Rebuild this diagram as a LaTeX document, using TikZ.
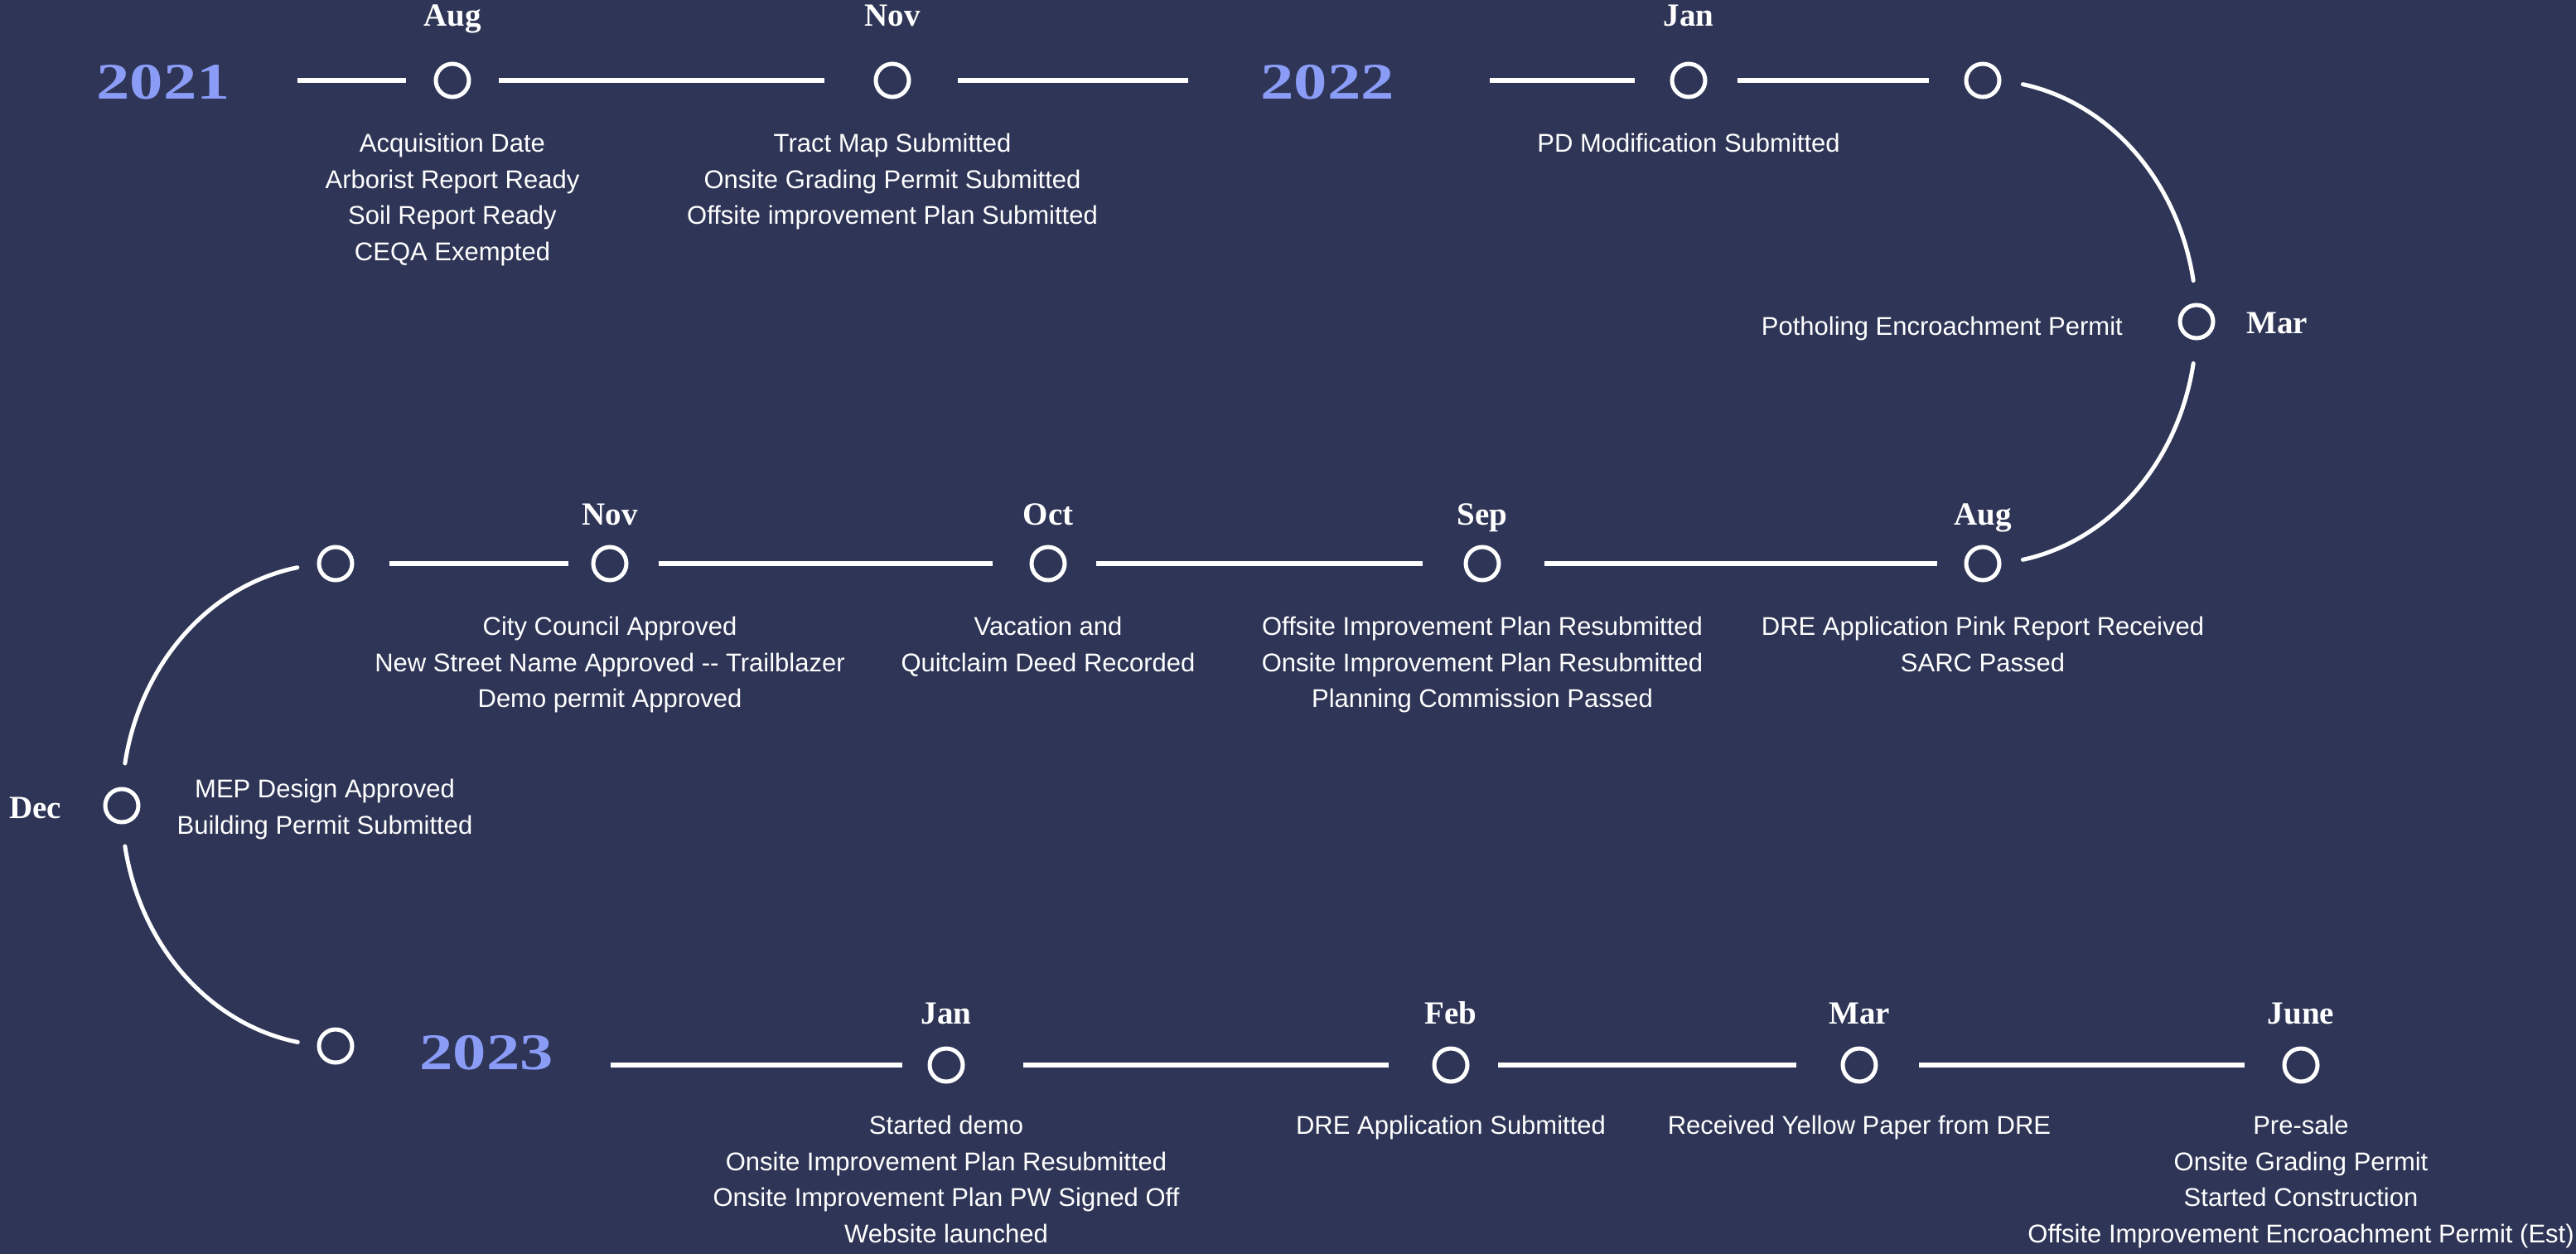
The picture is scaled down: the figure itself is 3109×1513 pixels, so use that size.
\documentclass[tikz,border=0pt]{standalone}
\usepackage{fontspec}
\setmainfont{Liberation Sans}
\newfontfamily\monthfont{Liberation Serif}
\newfontfamily\yearfont{Liberation Serif}[FakeStretch=1.3]
\usetikzlibrary{calc}
\definecolor{bg}{HTML}{2E3556}
\definecolor{yr}{HTML}{8B9CF7}
\begin{document}
\begin{tikzpicture}[x=1bp,y=1bp,
  dot/.style={circle,draw=white,line width=5bp,minimum size=40bp,inner sep=0pt},
  seg/.style={white,line width=5.5bp},
  curve/.style={white,line width=5bp,line cap=round},
  month/.style={text=white,font=\monthfont\bfseries\fontsize{39bp}{44bp}\selectfont,inner sep=0pt,anchor=base},
  yearlbl/.style={text=yr,font=\yearfont\bfseries\fontsize{62bp}{70bp}\selectfont,inner sep=0pt,anchor=base},
  desc/.style={text=white,font=\fontsize{31bp}{43.6bp}\selectfont,align=center,inner sep=0pt,anchor=north}]
\useasboundingbox (0,0) rectangle (3109,-1513);
\fill[bg] (0,0) rectangle (3109,-1513);

% ---------- nodes ----------
% row 1
\node[yearlbl] (y21) at (197,-120) {2021};
\node[dot] (a1) at (546,-97) {};
\node[dot] (n1) at (1077,-97) {};
\node[yearlbl] (y22) at (1602,-120) {2022};
\node[dot] (j1) at (2038,-97) {};
\node[dot] (e1) at (2393,-97) {};
\node[dot] (m1) at (2651,-388) {};
% row 2
\node[dot] (a2) at (2393,-680) {};
\node[dot] (s2) at (1789,-680) {};
\node[dot] (o2) at (1265,-680) {};
\node[dot] (n2) at (736,-680) {};
\node[dot] (w2) at (405,-680) {};
\node[dot] (d2) at (147,-972) {};
% row 3
\node[dot] (w3) at (405,-1262) {};
\node[yearlbl] (y23) at (587,-1290) {2023};
\node[dot] (j3) at (1142,-1285) {};
\node[dot] (f3) at (1751,-1285) {};
\node[dot] (m3) at (2244,-1285) {};
\node[dot] (u3) at (2777,-1285) {};

% ---------- month labels ----------
\node[month] (la1) at ([yshift=65bp]a1.center) {Aug};
\node[month] (ln1) at ([yshift=65bp]n1.center) {Nov};
\node[month] (lj1) at ([yshift=65bp]j1.center) {Jan};
\node[month,anchor=base west] (lm1) at ([shift={(60bp,-14bp)}]m1.center) {Mar};
\node[month] (la2) at ([yshift=47bp]a2.center) {Aug};
\node[month] (ls2) at ([yshift=47bp]s2.center) {Sep};
\node[month] (lo2) at ([yshift=47bp]o2.center) {Oct};
\node[month] (ln2) at ([yshift=47bp]n2.center) {Nov};
\node[month,anchor=base east] (ld2) at ([shift={(-73bp,-15bp)}]d2.center) {Dec};
\node[month] (lj3) at ([yshift=50bp]j3.center) {Jan};
\node[month] (lf3) at ([yshift=50bp]f3.center) {Feb};
\node[month] (lm3) at ([yshift=50bp]m3.center) {Mar};
\node[month] (lu3) at ([yshift=50bp]u3.center) {June};

% ---------- descriptions ----------
\node[desc] (ta1) at ([yshift=-64bp]a1.center) {Acquisition Date\\Arborist Report Ready\\Soil Report Ready\\CEQA Exempted};
\node[desc] (tn1) at ([yshift=-64bp]n1.center) {Tract Map Submitted\\Onsite Grading Permit Submitted\\Offsite improvement Plan Submitted};
\node[desc] (tj1) at ([yshift=-64bp]j1.center) {PD Modification Submitted};
\node[desc,anchor=base east] (tm1) at ([shift={(-89bp,-16bp)}]m1.center) {Potholing Encroachment Permit};
\node[desc] (ta2) at ([yshift=-64bp]a2.center) {DRE Application Pink Report Received\\SARC Passed};
\node[desc] (ts2) at ([yshift=-64bp]s2.center) {Offsite Improvement Plan Resubmitted\\Onsite Improvement Plan Resubmitted\\Planning Commission Passed};
\node[desc] (to2) at ([yshift=-64bp]o2.center) {Vacation and\\Quitclaim Deed Recorded};
\node[desc] (tn2) at ([yshift=-64bp]n2.center) {City Council Approved\\New Street Name Approved {-}{-} Trailblazer\\Demo permit Approved};
\node[desc] (td2) at ([shift={(245bp,32bp)}]d2.center) {MEP Design Approved\\Building Permit Submitted};
\node[desc] (tj3) at ([yshift=-61bp]j3.center) {Started demo\\Onsite Improvement Plan Resubmitted\\Onsite Improvement Plan PW Signed Off\\Website launched};
\node[desc] (tf3) at ([yshift=-61bp]f3.center) {DRE Application Submitted};
\node[desc] (tm3) at ([yshift=-61bp]m3.center) {Received Yellow Paper from DRE};
\node[desc] (tu3) at ([yshift=-61bp]u3.center) {Pre-sale\\Onsite Grading Permit\\Started Construction\\Offsite Improvement Encroachment Permit (Est)};

% ---------- straight connectors ----------
\draw[seg] ($(y21.center |- a1.center)+(162,0)$) -- ($(a1.center)+(-56,0)$);
\draw[seg] ($(a1.center)+(56,0)$) -- ($(n1.center)+(-82,0)$);
\draw[seg] ($(n1.center)+(79,0)$) -- ($(y22.center |- n1.center)+(-168,0)$);
\draw[seg] ($(y22.center |- j1.center)+(196,0)$) -- ($(j1.center)+(-65,0)$);
\draw[seg] ($(j1.center)+(59,0)$) -- ($(e1.center)+(-65,0)$);
\draw[seg] ($(w2.center)+(65,0)$) -- ($(n2.center)+(-50,0)$);
\draw[seg] ($(n2.center)+(59,0)$) -- ($(o2.center)+(-67,0)$);
\draw[seg] ($(o2.center)+(58,0)$) -- ($(s2.center)+(-72,0)$);
\draw[seg] ($(s2.center)+(75,0)$) -- ($(a2.center)+(-55,0)$);
\draw[seg] ($(y23.center |- j3.center)+(150,0)$) -- ($(j3.center)+(-53,0)$);
\draw[seg] ($(j3.center)+(93,0)$) -- ($(f3.center)+(-75,0)$);
\draw[seg] ($(f3.center)+(57,0)$) -- ($(m3.center)+(-76,0)$);
\draw[seg] ($(m3.center)+(72,0)$) -- ($(u3.center)+(-68,0)$);

% ---------- curved connectors ----------
\coordinate (ER) at ($(e1.center)!0.5!(a2.center)$);
\coordinate (EL) at ($(w2.center)!0.5!(w3.center)$);
\draw[curve] ([shift={(79.2:258 and 292)}]ER) arc[start angle=79.2, end angle=9.85, x radius=258, y radius=292];
\draw[curve] ([shift={(-9.85:258 and 292)}]ER) arc[start angle=-9.85, end angle=-79.2, x radius=258, y radius=292];
\draw[curve] ([shift={(100.3:258 and 291)}]EL) arc[start angle=100.3, end angle=170.1, x radius=258, y radius=291];
\draw[curve] ([shift={(189.9:258 and 291)}]EL) arc[start angle=189.9, end angle=259.8, x radius=258, y radius=291];
\end{tikzpicture}
\end{document}
